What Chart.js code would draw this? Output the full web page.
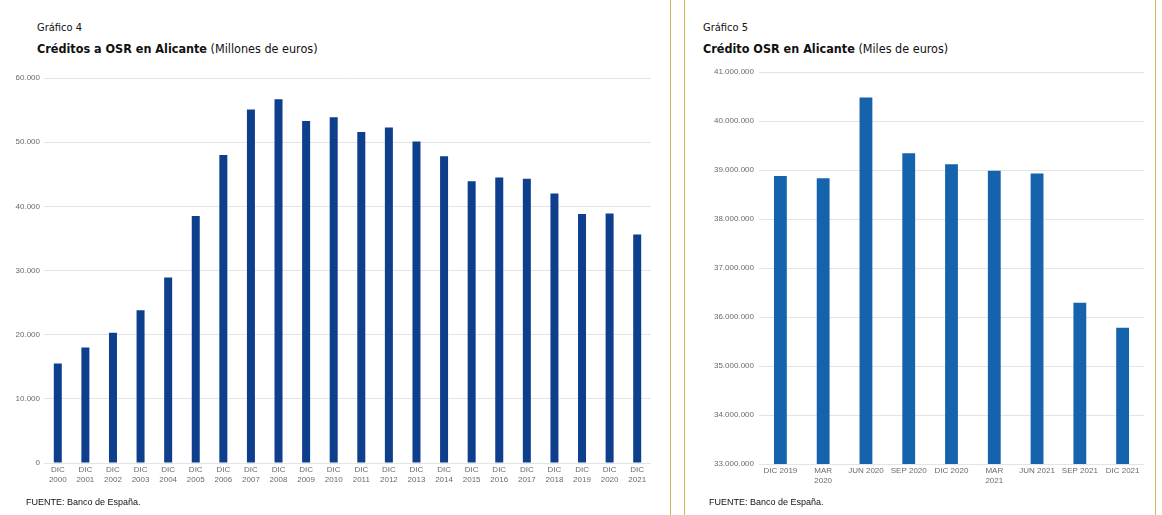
<!DOCTYPE html>
<html>
<head>
<meta charset="utf-8">
<script src="https://cdn.jsdelivr.net/npm/chart.js@4.4.1/dist/chart.umd.min.js"></script>
<style>
  body { margin: 0; background: #fff; width: 1162px; height: 515px; position: relative; overflow: hidden;
         font-family: "Liberation Sans Narrow", "DejaVu Sans Condensed", sans-serif; color: #111; }
  .num { position: absolute; font-size: 11px; }
  .tit { position: absolute; font-size: 12.5px; white-space: nowrap; }
  .tit b { font-weight: bold; }
  .src { position: absolute; font-size: 9px; font-family: "Liberation Sans", sans-serif; }
  .wrap { position: absolute; }
  .vline { position: absolute; top: 0; width: 1px; height: 515px; background: #c4bd55; }
</style>
</head>
<body>
<div class="num" style="left:37px; top:21px;">Gráfico 4</div>
<div class="tit" style="left:37px; top:41px;"><b>Créditos a OSR en Alicante</b> (Millones de euros)</div>
<div class="wrap" style="left:0px; top:60px; width:660px; height:440px;"><canvas id="g4"></canvas></div>
<div class="src" style="left:26px; top:497px;">FUENTE: Banco de España.</div>

<div class="vline" style="left:670px;"></div>
<div class="vline" style="left:684px;"></div>
<div class="vline" style="left:1155px;"></div>

<div class="num" style="left:703px; top:21px;">Gráfico 5</div>
<div class="tit" style="left:703px; top:41px;"><b>Crédito OSR en Alicante</b> (Miles de euros)</div>
<div class="wrap" style="left:690px; top:60px; width:462px; height:440px;"><canvas id="g5"></canvas></div>
<div class="src" style="left:709px; top:497px;">FUENTE: Banco de España.</div>

<script>
// Gráfico 4: créditos anuales (millones de euros)
const anios = ["2000","2001","2002","2003","2004","2005","2006","2007","2008","2009","2010",
               "2011","2012","2013","2014","2015","2016","2017","2018","2019","2020","2021"];
const creditos4 = [15500, 18000, 20300, 23800, 28900, 38500, 48000, 55100, 56700, 53300, 53900,
                   51600, 52300, 50100, 47800, 43900, 44500, 44300, 42000, 38800, 38900, 35600];
const ticks4 = [0, 10000, 20000, 30000, 40000, 50000, 60000];

// Gráfico 5: trimestral (miles de euros)
const trimestres = ["DIC 2019", ["MAR", "2020"], "JUN 2020", "SEP 2020", "DIC 2020",
                    ["MAR", "2021"], "JUN 2021", "SEP 2021", "DIC 2021"];
const creditos5 = [38880000, 38830000, 40480000, 39340000, 39115000, 38985000, 38930000, 36290000, 35780000];
const ticks5 = [33000000, 34000000, 35000000, 36000000, 37000000, 38000000, 39000000, 40000000, 41000000];

// miles con punto
const fmt = v => String(v).replace(/\B(?=(\d{3})+(?!\d))/g, ".");

const tickFont = { family: "'Liberation Sans', sans-serif", size: 8 };
const tickColor = "#6a6a6a";

function hacerGrafico(id, labels, data, yTicks, color, opts) {
  return new Chart(document.getElementById(id), {
    type: "bar",
    data: {
      labels: labels,
      datasets: [{ data: data, backgroundColor: color, categoryPercentage: 1, barPercentage: opts.bar }]
    },
    options: {
      responsive: true,
      maintainAspectRatio: false,
      animation: false,
      layout: { padding: { top: opts.top, right: opts.right, left: 0, bottom: 0 } },
      plugins: { legend: { display: false }, tooltip: { enabled: false } },
      scales: {
        x: {
          grid: { display: false, drawTicks: false },
          border: { display: false },
          ticks: { color: tickColor, font: tickFont, maxRotation: 0, autoSkip: false, padding: 2 },
          afterFit: s => { s.height = opts.xh; }
        },
        y: {
          min: yTicks[0],
          max: yTicks[yTicks.length - 1],
          afterBuildTicks: s => { s.ticks = yTicks.map(v => ({ value: v })); },
          grid: { color: "#e4e4e4", drawTicks: false },
          border: { display: false },
          ticks: { color: tickColor, font: tickFont, padding: opts.ypad, callback: v => fmt(v) },
          afterFit: s => { s.width = opts.yw; }
        }
      }
    }
  });
}

hacerGrafico("g4", anios.map(a => ["DIC", a]), creditos4, ticks4, "#0d3f8d",
             { bar: 0.29, top: 18, right: 9, xh: 37, yw: 44, ypad: 4 });
hacerGrafico("g5", trimestres, creditos5, ticks5, "#1663ad",
             { bar: 0.30, top: 12, right: 8, xh: 36, yw: 69, ypad: 5 });
</script>
</body>
</html>
